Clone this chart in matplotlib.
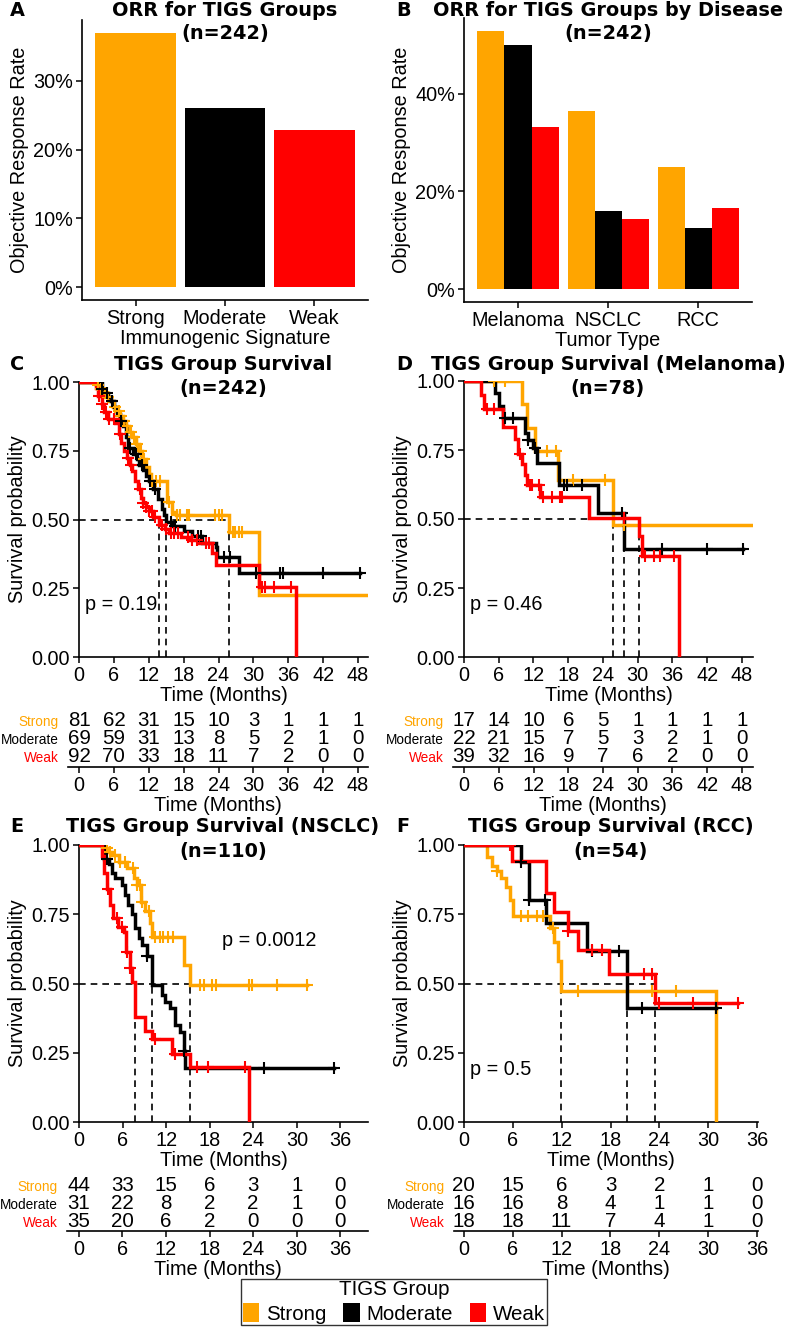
import numpy as np
import matplotlib
matplotlib.use("Agg")
import matplotlib.pyplot as plt
from matplotlib.patches import Patch

plt.rcParams['font.family'] = ['Liberation Sans', 'DejaVu Sans']

W, H = 787, 1328
groups = ['Strong', 'Moderate', 'Weak']
colors = {'Strong': '#FFA500', 'Moderate': '#000000', 'Weak': '#FF0000'}

# ---- ORR data ----
orr_overall = [0.370, 0.261, 0.228]
tumors = ['Melanoma', 'NSCLC', 'RCC']
orr_strong = [0.529, 0.364, 0.250]
orr_moderate = [0.500, 0.161, 0.125]
orr_weak = [0.333, 0.143, 0.167]

# ---- KM curves: step times, survival after step, censor times, end time ----
C_strong = dict(t=[2.9, 3.5, 4.0, 4.6, 5.2, 5.8, 6.3, 6.9, 7.5, 8.0, 8.6, 9.2, 9.8, 10.4, 10.9, 11.5, 12.0, 12.4, 15.2, 16.0, 16.6, 25.8, 30.9],
                s=[0.99, 0.975, 0.96, 0.945, 0.93, 0.91, 0.895, 0.875, 0.86, 0.84, 0.82, 0.80, 0.775, 0.75, 0.72, 0.69, 0.665, 0.64, 0.564, 0.528, 0.516, 0.455, 0.227],
                cens=[3.2, 3.8, 4.5, 5.0, 5.6, 6.2, 6.8, 7.2, 7.8, 8.3, 8.9, 9.5, 10.0, 10.6, 11.2, 12.6, 13.2, 13.9, 15.4, 16.9, 17.4, 18.5, 19.0, 23.4, 24.0, 24.6, 26.4, 26.9, 27.5, 28.0],
                end=49.7)
C_moderate = dict(t=[3.9, 4.5, 5.0, 5.5, 6.0, 6.5, 7.0, 7.6, 8.0, 8.4, 9.3, 10.0, 10.4, 11.0, 11.5, 12.0, 12.8, 13.5, 14.2, 14.7, 15.0, 16.0, 18.0, 19.5, 21.2, 23.5, 23.8, 27.6],
                  s=[0.975, 0.96, 0.945, 0.93, 0.91, 0.885, 0.86, 0.84, 0.80, 0.76, 0.74, 0.72, 0.70, 0.68, 0.66, 0.64, 0.61, 0.575, 0.54, 0.515, 0.49, 0.475, 0.46, 0.44, 0.415, 0.40, 0.365, 0.305],
                  cens=[4.0, 4.8, 5.7, 7.3, 8.8, 9.8, 10.8, 12.2, 13.0, 15.8, 16.5, 20.5, 21.0, 25.0, 26.0, 30.5, 34.5, 35.0, 42.0, 48.3],
                  end=48.3)
C_weak = dict(t=[3.0, 3.3, 3.9, 4.3, 5.0, 6.2, 6.8, 7.3, 7.7, 8.2, 8.8, 9.2, 9.7, 10.2, 10.6, 11.0, 11.5, 12.0, 12.7, 13.8, 14.8, 15.5, 17.5, 19.0, 20.5, 22.8, 23.5, 30.9, 37.4],
              s=[0.98, 0.95, 0.92, 0.89, 0.865, 0.85, 0.81, 0.78, 0.75, 0.725, 0.70, 0.675, 0.64, 0.61, 0.58, 0.56, 0.545, 0.53, 0.51, 0.48, 0.465, 0.45, 0.435, 0.425, 0.415, 0.38, 0.335, 0.255, 0.0],
              cens=[3.5, 4.0, 4.6, 5.2, 6.0, 7.0, 8.5, 9.0, 10.5, 11.0, 11.5, 12.0, 12.5, 13.0, 14.3, 15.0, 15.8, 16.3, 17.0, 18.8, 19.5, 20.3, 21.8, 22.3, 31.5, 32.0, 33.5, 36.5],
              end=37.4)

D_strong = dict(t=[10.0, 10.8, 12.3, 16.3, 25.8], s=[0.917, 0.83, 0.745, 0.64, 0.48],
                cens=[5.1, 7.1, 14.3, 15.8, 18.9, 24.4, 27.6], end=49.9)
D_moderate = dict(t=[5.4, 6.1, 6.8, 10.6, 11.1, 12.0, 12.6, 16.4, 23.2, 27.6],
                  s=[0.955, 0.91, 0.865, 0.81, 0.785, 0.757, 0.703, 0.624, 0.522, 0.39],
                  cens=[7.1, 8.5, 11.1, 12.3, 17.2, 17.8, 20.4, 27.3, 34.2, 42.0, 48.1], end=48.1)
D_weak = dict(t=[2.9, 3.5, 6.8, 8.8, 9.4, 10.0, 10.6, 10.9, 13.2, 21.6, 30.2, 30.8, 37.1],
              s=[0.95, 0.90, 0.835, 0.79, 0.735, 0.70, 0.66, 0.625, 0.58, 0.504, 0.44, 0.365, 0.0],
              cens=[4.0, 5.1, 9.7, 11.4, 11.7, 12.9, 13.7, 15.2, 16.6, 16.9, 27.6, 31.3, 32.8, 33.9, 36.2], end=37.1)

E_strong = dict(t=[3.4, 3.9, 4.6, 5.5, 6.6, 7.6, 8.0, 8.6, 9.1, 9.8, 10.0, 14.4, 15.3],
                s=[0.988, 0.976, 0.964, 0.94, 0.916, 0.88, 0.855, 0.795, 0.76, 0.72, 0.668, 0.566, 0.494],
                cens=[3.8, 4.3, 5.0, 5.7, 6.3, 7.5, 8.0, 8.4, 8.7, 9.6, 10.4, 11.2, 11.6, 12.3, 13.0, 16.7, 17.2, 18.3, 18.8, 23.4, 23.8, 27.3, 31.4],
                end=31.4)
E_moderate = dict(t=[3.5, 4.1, 4.5, 5.0, 5.9, 6.4, 6.8, 7.3, 7.7, 8.2, 8.7, 9.3, 10.0, 10.1, 11.4, 11.9, 12.6, 13.2, 13.9, 14.4, 14.6],
                  s=[0.95, 0.93, 0.90, 0.88, 0.855, 0.82, 0.785, 0.75, 0.70, 0.665, 0.64, 0.60, 0.55, 0.494, 0.458, 0.434, 0.41, 0.35, 0.325, 0.255, 0.195],
                  cens=[3.8, 9.3, 14.4, 25.5, 35.1], end=35.1)
E_weak = dict(t=[3.1, 3.5, 3.9, 4.3, 4.7, 5.4, 6.2, 6.5, 7.0, 7.3, 7.7, 9.1, 10.0, 12.8, 15.3, 23.4],
              s=[0.96, 0.90, 0.84, 0.785, 0.735, 0.705, 0.685, 0.615, 0.555, 0.506, 0.38, 0.33, 0.30, 0.247, 0.199, 0.0],
              cens=[4.0, 5.2, 5.9, 6.6, 7.0, 10.5, 13.2, 16.3, 17.8, 22.9], end=23.4)

F_strong = dict(t=[2.8, 3.4, 4.1, 4.5, 5.1, 5.7, 6.0, 10.5, 11.0, 11.5, 11.9, 31.0],
                s=[0.955, 0.925, 0.905, 0.88, 0.85, 0.80, 0.742, 0.70, 0.65, 0.58, 0.472, 0.0],
                cens=[4.1, 7.0, 7.8, 9.0, 9.7, 10.9, 14.0, 23.1, 26.0], end=31.0)
F_moderate = dict(t=[7.0, 8.0, 10.1, 15.1, 20.0], s=[0.94, 0.80, 0.72, 0.617, 0.41],
                  cens=[7.0, 8.0, 9.9, 15.7, 19.0, 21.9, 31.0], end=31.0)
F_weak = dict(t=[5.9, 10.1, 11.1, 12.8, 14.0, 17.8, 23.4], s=[0.944, 0.828, 0.757, 0.69, 0.62, 0.535, 0.43],
              cens=[5.7, 12.8, 15.7, 16.9, 22.1, 23.1, 24.0, 28.1, 33.7], end=33.7)

# ---- numbers at risk ----
risk_times_48 = [0, 6, 12, 18, 24, 30, 36, 42, 48]
risk_times_36 = [0, 6, 12, 18, 24, 30, 36]
C_risk = {'Strong': [81, 62, 31, 15, 10, 3, 1, 1, 1], 'Moderate': [69, 59, 31, 13, 8, 5, 2, 1, 0], 'Weak': [92, 70, 33, 18, 11, 7, 2, 0, 0]}
D_risk = {'Strong': [17, 14, 10, 6, 5, 1, 1, 1, 1], 'Moderate': [22, 21, 15, 7, 5, 3, 2, 1, 0], 'Weak': [39, 32, 16, 9, 7, 6, 2, 0, 0]}
E_risk = {'Strong': [44, 33, 15, 6, 3, 1, 0], 'Moderate': [31, 22, 8, 2, 2, 1, 0], 'Weak': [35, 20, 6, 2, 0, 0, 0]}
F_risk = {'Strong': [20, 15, 6, 3, 2, 1, 0], 'Moderate': [16, 16, 8, 4, 1, 1, 0], 'Weak': [18, 18, 11, 7, 4, 1, 0]}

TS = 14.3   # tick / label size
TTL = 13.9  # title size

fig = plt.figure(figsize=(W / 100, H / 100), dpi=100)


def px_axes(x0, y0, x1, y1):
    return fig.add_axes([x0 / W, 1 - y1 / H, (x1 - x0) / W, (y1 - y0) / H])


def ftext(x, y, s, **kw):
    fig.text(x / W, 1 - y / H, s, **kw)


def style(ax):
    for sp in ['top', 'right']:
        ax.spines[sp].set_visible(False)
    for sp in ['left', 'bottom']:
        ax.spines[sp].set_linewidth(1.2)
    ax.tick_params(labelsize=TS, length=4, width=1.1, colors='black', pad=2.5)


def title(letter, lx, cx, y, line1, line2):
    ftext(lx, y, letter, fontsize=TTL, fontweight='bold', family='DejaVu Sans', ha='left', va='center')
    ftext(cx, y, line1, fontsize=TTL, fontweight='bold', family='DejaVu Sans', ha='center', va='center')
    ftext(cx, y + 24, line2, fontsize=TTL, fontweight='bold', family='DejaVu Sans', ha='center', va='center')


# ---- Panel A ----
axA = px_axes(82, 20, 368, 300)
style(axA)
xa = np.arange(1, 4)
axA.bar(xa, orr_overall, width=0.9, color=[colors[g] for g in groups])
axA.set_xlim(0.4, 3.6)
axA.set_ylim(-0.05 * max(orr_overall), 1.05 * max(orr_overall))
axA.set_xticks(xa, groups)
axA.set_yticks([0, 0.1, 0.2, 0.3], ['0%', '10%', '20%', '30%'])
axA.set_ylabel('Objective Response Rate', fontsize=TS, labelpad=3)
axA.set_xlabel('Immunogenic Signature', fontsize=TS, labelpad=1)
title('A', 10, 225, 10, 'ORR for TIGS Groups', '(n=242)')

# ---- Panel B ----
axB = px_axes(464, 18, 752, 302)
style(axB)
xb = np.arange(1, 4)
for j, (g, vals) in enumerate(zip(groups, [orr_strong, orr_moderate, orr_weak])):
    axB.bar(xb + (j - 1) * 0.3, vals, width=0.3, color=colors[g])
allb = orr_strong + orr_moderate + orr_weak
axB.set_xlim(0.4, 3.6)
axB.set_ylim(-0.05 * max(allb), 1.05 * max(allb))
axB.set_xticks(xb, tumors)
axB.set_yticks([0, 0.2, 0.4], ['0%', '20%', '40%'])
axB.set_ylabel('Objective Response Rate', fontsize=TS, labelpad=3)
axB.set_xlabel('Tumor Type', fontsize=TS, labelpad=1)
title('B', 396, 608, 10, 'ORR for TIGS Groups by Disease', '(n=242)')


def km_panel(box, xmax, xticks, curves, pval, pxy, risk, risk_times, tbox, tleft):
    ax = px_axes(*box)
    style(ax)
    medians = []
    for g, c in zip(groups, curves):
        t = np.r_[0.0, c['t']]
        s = np.r_[1.0, c['s']]
        ax.step(np.r_[t, c['end']], np.r_[s, s[-1]], where='post', color=colors[g], lw=2.5,
                solid_joinstyle='miter', zorder=3)
        cs = np.array(c['cens'])
        cy = s[np.searchsorted(t, cs, side='right') - 1]
        ax.plot(cs, cy, '+', color=colors[g], ms=9, mew=1.5, zorder=4)
        below = np.where(s <= 0.5)[0]
        if len(below):
            medians.append(t[below[0]])
    for m in medians:
        ax.plot([m, m], [0, 0.5], color='black', lw=1.2, ls=(0, (4, 3)), zorder=2)
    ax.plot([0, max(medians)], [0.5, 0.5], color='black', lw=1.2, ls=(0, (4, 3)), zorder=2)
    ax.set_xlim(0, xmax)
    ax.set_ylim(0, 1)
    ax.set_xticks(xticks)
    ax.set_yticks([0, 0.25, 0.5, 0.75, 1.0], ['0.00', '0.25', '0.50', '0.75', '1.00'])
    ax.set_ylabel('Survival probability', fontsize=TS, labelpad=3)
    ax.set_xlabel('Time (Months)', fontsize=TS, labelpad=1)
    ax.text(pxy[0], pxy[1], pval, fontsize=TS, ha='left', va='center')

    # risk table
    tb = px_axes(*tbox)
    for sp in ['top', 'right', 'left']:
        tb.spines[sp].set_visible(False)
    tb.spines['bottom'].set_linewidth(1.2)
    tb.set_xlim(tleft, xmax)
    tb.set_ylim(0.444, 3.5)
    for r, g in zip([3, 2, 1], groups):
        for tt, n in zip(risk_times, risk[g]):
            tb.text(tt, r, str(n), fontsize=TS + 0.5, ha='center', va='center')
    tb.set_yticks([3, 2, 1], groups)
    for lab, g in zip(tb.get_yticklabels(), groups):
        lab.set_color(colors[g])
        lab.set_fontsize(9.8)
    tb.tick_params(axis='y', length=0, pad=6.5)
    tb.tick_params(axis='x', labelsize=TS, length=4, width=1.1, pad=2.5)
    tb.set_xticks(risk_times)
    tb.set_xlabel('Time (Months)', fontsize=TS, labelpad=1)
    return ax


km_panel((79, 382, 368, 657), 49.7, risk_times_48, [C_strong, C_moderate, C_weak], 'p = 0.19', (1.0, 0.19),
         C_risk, risk_times_48, (68, 712, 368, 767), -1.9)
title('C', 10, 223, 364, 'TIGS Group Survival', '(n=242)')

km_panel((464, 381, 753, 657), 49.9, risk_times_48, [D_strong, D_moderate, D_weak], 'p = 0.46', (1.0, 0.19),
         D_risk, risk_times_48, (453, 712, 753, 767), -1.9)
title('D', 396, 608, 364, 'TIGS Group Survival (Melanoma)', '(n=78)')

km_panel((79, 845, 368, 1122), 39.8, risk_times_36, [E_strong, E_moderate, E_weak], 'p = 0.0012', (19.7, 0.657),
         E_risk, risk_times_36, (67, 1177, 368, 1231), -1.6)
title('E', 10, 223, 827, 'TIGS Group Survival (NSCLC)', '(n=110)')

km_panel((464, 845, 758, 1122), 36.1, risk_times_36, [F_strong, F_moderate, F_weak], 'p = 0.5', (0.75, 0.19),
         F_risk, risk_times_36, (454, 1177, 758, 1231), -1.2)
title('F', 396, 611, 827, 'TIGS Group Survival (RCC)', '(n=54)')

# ---- legend ----
handles = [Patch(facecolor=colors[g], edgecolor='none') for g in groups]
leg = fig.legend(handles, groups, ncol=3, title='TIGS Group', loc='center',
                 bbox_to_anchor=(394 / W, 1 - 1302 / H), frameon=True, fancybox=False,
                 edgecolor='black', fontsize=TS + 0.5, title_fontsize=TS + 0.5,
                 handlelength=0.8, handleheight=1.0, handletextpad=0.35, columnspacing=0.8,
                 borderpad=0.08, labelspacing=0.2, borderaxespad=0)
leg.get_frame().set_linewidth(1.0)

fig.savefig('out.png', dpi=100)
